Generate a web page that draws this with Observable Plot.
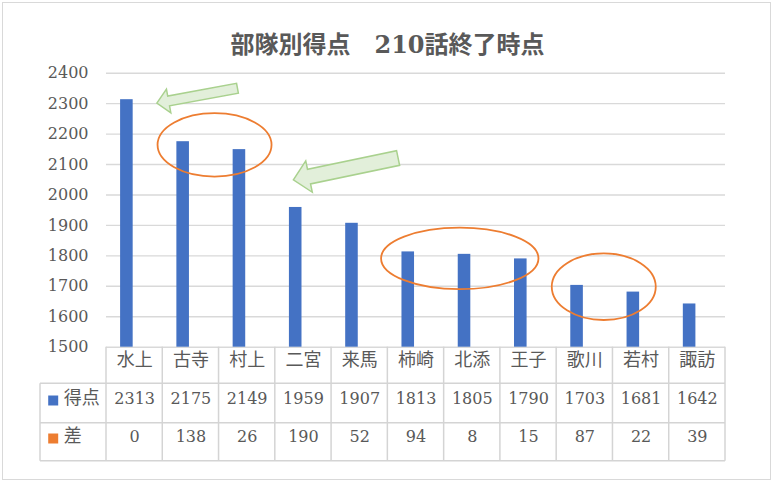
<!DOCTYPE html>
<html><head><meta charset="utf-8">
<script src="https://cdn.jsdelivr.net/npm/d3@7"></script>
<script src="https://cdn.jsdelivr.net/npm/@observablehq/plot@0.6"></script>
<style>
body{margin:0;background:#fff}
#chart{position:relative;width:775px;height:483px;overflow:hidden;background:#fff}
#frame{position:absolute;left:2px;top:2px;width:767px;height:476px;border:1.5px solid #d9d9d9;}
#title{position:absolute;left:0;top:33px;width:775px;text-align:center;font:bold 24px/24px "DejaVu Serif","Noto Sans CJK JP";color:#595959;white-space:pre}
#plot{position:absolute;left:0;top:0}
</style></head><body>
<div id="chart"><div id="frame"></div><div id="title">部隊別得点　210話終了時点</div><div id="plot"></div></div>
<script>
const categories = ["水上","古寺","村上","二宮","来馬","柿崎","北添","王子","歌川","若村","諏訪"];
const scores = [2313,2175,2149,1959,1907,1813,1805,1790,1703,1681,1642];
const diffs = [0,138,26,190,52,94,8,15,87,22,39];
const yTicks = [1500,1600,1700,1800,1900,2000,2100,2200,2300,2400];
const seriesNames = ["得点","差"];
const seriesColors = ["#4472C4","#ED7D31"];

// annotation shapes (anchored to the scales)
const ellipseNotes = [
  {a:"古寺", b:"村上", dx:-4, value:2163, rx:57, ry:31.7},
  {a:"北添", b:"北添", dx:-12, value:1790, rx:78.7, ry:30.8},
  {a:"歌川", b:"若村", dx:-8.7, value:1697, rx:52, ry:33.3}
];
const arrowNotes = [
  {cat:"水上", dx:22.7, value:2300, length:82, angle:-10.5, shaft:10, head:24, headLen:12},
  {cat:"二宮", dx:-9.6, value:2048, length:107, angle:-11.8, shaft:15, head:32, headLen:16}
];

const rows = categories.map((c,i)=>({name:c, score:scores[i], diff:diffs[i]}));

const ROW1 = 36.6, ROW2 = 76, ROW3 = 114, LEGW = 66;

function tableGrid(index, scales, values, dims) {
  const x = scales.x;
  const bw = x.bandwidth();
  const left = dims.marginLeft, right = dims.width - dims.marginRight, base = dims.height - dims.marginBottom;
  const g = d3.create("svg:g").attr("stroke","#d4d4d4").attr("stroke-width",1.5).attr("fill","none");
  const xs = categories.map(c => x(c)).concat([x(categories[categories.length-1]) + bw]);
  for (const xv of xs) g.append("line").attr("x1",xv).attr("x2",xv).attr("y1",base).attr("y2",base+ROW3);
  g.append("line").attr("x1",left-LEGW).attr("x2",left-LEGW).attr("y1",base+ROW1).attr("y2",base+ROW3);
  for (const yv of [ROW1, ROW2, ROW3]) g.append("line").attr("x1",left-LEGW).attr("x2",right).attr("y1",base+yv).attr("y2",base+yv);
  return g.node();
}

function notes(index, scales, values, dims) {
  const x = scales.x, y = scales.y;
  const bw = x.bandwidth();
  const g = d3.create("svg:g");
  for (const e of ellipseNotes) {
    const cx = (x(e.a) + x(e.b)) / 2 + bw / 2 + e.dx;
    g.append("ellipse").attr("cx",cx).attr("cy",y(e.value)).attr("rx",e.rx).attr("ry",e.ry)
      .attr("fill","none").attr("stroke","#ED7D31").attr("stroke-width",1.8);
  }
  for (const a of arrowNotes) {
    const tx = x(a.cat) + bw / 2 + a.dx, ty = y(a.value);
    const hw = a.head/2, sw = a.shaft/2, hl = a.headLen, L = a.length;
    const pts = [[0,0],[hl,-hw],[hl,-sw],[L,-sw],[L,sw],[hl,sw],[hl,hw]];
    g.append("polygon").attr("points", pts.map(p=>p.join(",")).join(" "))
      .attr("transform",`translate(${tx},${ty}) rotate(${a.angle})`)
      .attr("fill","#E2EFDA").attr("stroke","#A9D18E").attr("stroke-width",1.5).attr("stroke-linejoin","miter");
  }
  return g.node();
}

const chart = Plot.plot({
  width: 775,
  height: 483,
  marginLeft: 106,
  marginRight: 50,
  marginTop: 72.7,
  marginBottom: 136.3,
  style: {fontFamily: '"DejaVu Serif","Noto Sans CJK JP",serif', fontSize: "16px", color: "#595959", background: "transparent", overflow: "visible"},
  x: {type: "band", domain: categories, padding: 0, round: false, axis: null, label: null},
  y: {domain: [yTicks[0], yTicks[yTicks.length-1]], axis: null, label: null},
  marks: [
    Plot.gridY(yTicks, {stroke: "#d9d9d9", strokeOpacity: 1, strokeWidth: 1.4}),
    Plot.axisY(yTicks, {tickSize: 0, tickPadding: 18, fontSize: 16, fill: "#595959", label: null, tickFormat: d => String(d)}),
    Plot.barY(rows, {x: "name", y1: yTicks[0], y2: "score", fill: seriesColors[0], insetLeft: 14.1, insetRight: 29.6}),
    tableGrid,
    Plot.text(rows, {x: "name", text: "name", frameAnchor: "bottom", dy: 18.5, fontSize: 18, fill: "#595959"}),
    Plot.text(rows, {x: "name", text: d => String(d.score), frameAnchor: "bottom", dy: 56.5, fontSize: 16, fill: "#595959"}),
    Plot.text(rows, {x: "name", text: d => String(d.diff), frameAnchor: "bottom", dy: 95, fontSize: 16, fill: "#595959"}),
    Plot.dot([seriesNames[0]], {frameAnchor: "bottom-left", dx: -53.3, dy: 53.3, symbol: "square", r: 5.64, fill: seriesColors[0], stroke: null}),
    Plot.dot([seriesNames[1]], {frameAnchor: "bottom-left", dx: -53.3, dy: 91.3, symbol: "square", r: 5.64, fill: seriesColors[1], stroke: null}),
    Plot.text([seriesNames[0]], {frameAnchor: "bottom-left", text: d => d, dx: -42.7, dy: 56.5, textAnchor: "start", fontSize: 18, fill: "#595959"}),
    Plot.text([seriesNames[1]], {frameAnchor: "bottom-left", text: d => d, dx: -42.7, dy: 95, textAnchor: "start", fontSize: 18, fill: "#595959"}),
    notes
  ]
});
document.getElementById("plot").appendChild(chart);
</script>
</body></html>
